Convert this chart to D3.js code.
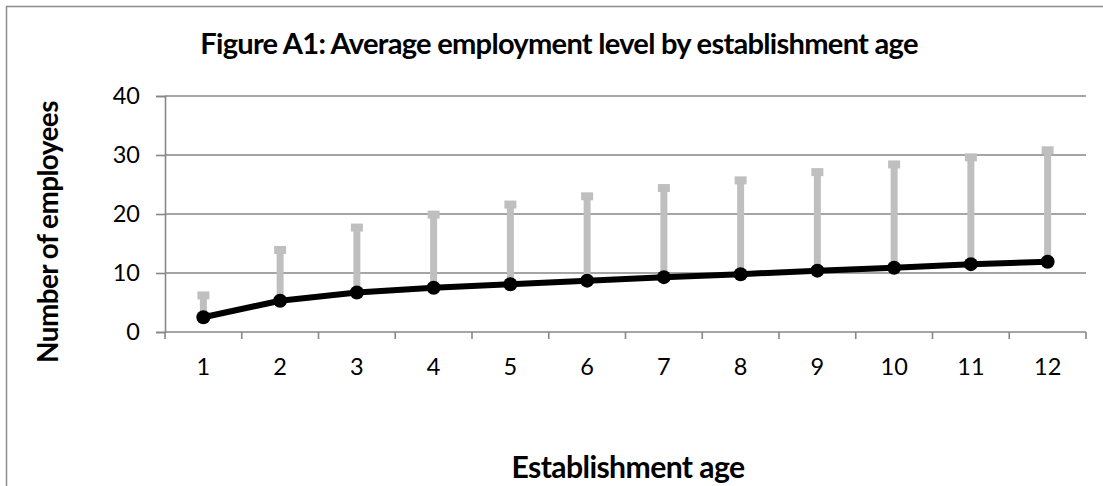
<!DOCTYPE html>
<html>
<head>
<meta charset="utf-8">
<script src="https://cdn.jsdelivr.net/npm/d3@7"></script>
<style>
  html, body { margin: 0; padding: 0; background: #fff; }
  svg { display: block; font-family: Lato, "Open Sans", sans-serif; }
</style>
</head>
<body>
<svg id="chart" width="1103" height="486"></svg>
<script>
// Establishment age categories
const ages = ["1", "2", "3", "4", "5", "6", "7", "8", "9", "10", "11", "12"];
// Average number of employees by age
const meanEmployees = [2.5, 5.3, 6.7, 7.5, 8.1, 8.7, 9.3, 9.8, 10.4, 10.9, 11.5, 11.9];
// Upper end of the spread bars
const upperEmployees = [6.2, 13.9, 17.7, 19.9, 21.6, 23.0, 24.4, 25.7, 27.1, 28.4, 29.6, 30.8];
// Value-axis ticks
const yTicks = [0, 10, 20, 30, 40];

const titleText = "Figure A1: Average employment level by establishment age";
const yTitleText = "Number of employees";
const xTitleText = "Establishment age";

const svg = d3.select("#chart");
const plot = { left: 165, right: 1086, top: 96, bottom: 332 };

const x = d3.scaleBand().domain(ages).range([plot.left, plot.right]).padding(0);
const y = d3.scaleLinear().domain([0, 40]).range([plot.bottom, plot.top]);

const gridColor = "#878787";
const tickFont = 23.5;

// Outer chart frame (left and top edges)
svg.append("path")
  .attr("d", "M6.5,486 V6.5 H1103")
  .attr("fill", "none")
  .attr("stroke", "#8c8c8c")
  .attr("stroke-width", 1.5);

// Horizontal gridlines
svg.append("g")
  .selectAll("line")
  .data(yTicks.filter(t => t > 0))
  .join("line")
  .attr("x1", plot.left).attr("x2", plot.right)
  .attr("y1", d => y(d)).attr("y2", d => y(d))
  .attr("stroke", gridColor).attr("stroke-width", 1.6);

// Value axis
const yAxis = svg.append("g")
  .attr("transform", `translate(${plot.left},0)`)
  .call(d3.axisLeft(y).tickValues(yTicks).tickSize(9).tickPadding(16).tickFormat(d3.format("d")));
yAxis.select(".domain").attr("stroke", gridColor).attr("stroke-width", 1.6);
yAxis.selectAll(".tick line").attr("stroke", gridColor).attr("stroke-width", 1.6);
yAxis.selectAll(".tick text")
  .attr("font-size", tickFont)
  .attr("font-family", "Lato, sans-serif")
  .attr("fill", "#000");

// Category axis: labels centred in each band, ticks on band edges
const xAxis = svg.append("g")
  .attr("transform", `translate(0,${plot.bottom})`)
  .call(d3.axisBottom(x).tickSize(0).tickPadding(26));
xAxis.select(".domain").remove();
xAxis.selectAll(".tick text")
  .attr("font-size", tickFont)
  .attr("font-family", "Lato, sans-serif")
  .attr("fill", "#000");

svg.append("line")
  .attr("x1", plot.left).attr("x2", plot.right)
  .attr("y1", plot.bottom).attr("y2", plot.bottom)
  .attr("stroke", gridColor).attr("stroke-width", 1.6);

svg.append("g")
  .selectAll("line")
  .data(d3.range(ages.length + 1))
  .join("line")
  .attr("x1", i => plot.left + i * x.step())
  .attr("x2", i => plot.left + i * x.step())
  .attr("y1", plot.bottom).attr("y2", plot.bottom + 7)
  .attr("stroke", gridColor).attr("stroke-width", 1.6);

const cx = d => x(d) + x.bandwidth() / 2;
const rows = ages.map((a, i) => ({ age: a, mean: meanEmployees[i], upper: upperEmployees[i] }));

// Grey spread bars from the mean up to the upper value
const barColor = "#bfbfbf";
const bars = svg.append("g");
bars.selectAll("line")
  .data(rows)
  .join("line")
  .attr("x1", d => cx(d.age)).attr("x2", d => cx(d.age))
  .attr("y1", d => y(d.mean)).attr("y2", d => y(d.upper))
  .attr("stroke", barColor).attr("stroke-width", 7);
bars.selectAll("rect.cap")
  .data(rows.flatMap(d => [{ age: d.age, v: d.upper }, { age: d.age, v: d.mean }]))
  .join("rect")
  .attr("class", "cap")
  .attr("x", d => cx(d.age) - 6)
  .attr("y", d => y(d.v) - 4)
  .attr("width", 12).attr("height", 8)
  .attr("fill", barColor);

// Mean employment line with markers
svg.append("path")
  .datum(rows)
  .attr("fill", "none")
  .attr("stroke", "#000")
  .attr("stroke-width", 6)
  .attr("stroke-linejoin", "round")
  .attr("d", d3.line().x(d => cx(d.age)).y(d => y(d.mean)));

svg.append("g")
  .selectAll("circle")
  .data(rows)
  .join("circle")
  .attr("cx", d => cx(d.age))
  .attr("cy", d => y(d.mean))
  .attr("r", 7)
  .attr("fill", "#000");

// Scale a text element so it spans the given width
function fitWidth(sel, target, base) {
  sel.attr("font-size", base);
  const w = sel.node().getComputedTextLength();
  sel.attr("font-size", base * target / w);
}

const title = svg.append("text")
  .attr("x", 559).attr("y", 54)
  .attr("text-anchor", "middle")
  .attr("font-weight", "bold")
  .attr("letter-spacing", "-0.025em")
  .attr("fill", "#000")
  .text(titleText);
fitWidth(title, 718, 24);

const yTitle = svg.append("text")
  .attr("transform", "translate(58,232) rotate(-90)")
  .attr("text-anchor", "middle")
  .attr("font-weight", "bold")
  .attr("letter-spacing", "-0.02em")
  .attr("fill", "#000")
  .text(yTitleText);
fitWidth(yTitle, 262, 20);

const xTitle = svg.append("text")
  .attr("x", 628).attr("y", 478)
  .attr("text-anchor", "middle")
  .attr("font-weight", "bold")
  .attr("letter-spacing", "-0.02em")
  .attr("fill", "#000")
  .text(xTitleText);
fitWidth(xTitle, 233, 20);
</script>
</body>
</html>
